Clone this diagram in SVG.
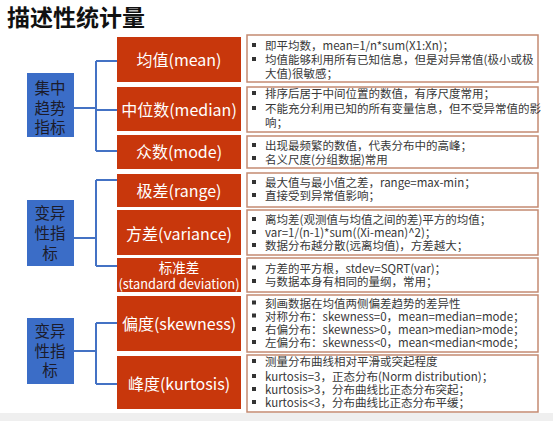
<svg xmlns="http://www.w3.org/2000/svg" width="553" height="421" viewBox="0 0 553 421">
<style>
text{font-family:"Noto Sans CJK SC","Noto Sans",sans-serif}
.title{font-size:23px;font-weight:bold;fill:#111}
.cat rect{fill:#3b6dc7}
.cat text{font-size:15.5px;fill:#1b1b2a;text-anchor:middle}
.m rect{fill:#c8370c}
.m text{font-size:16px;fill:#fff;text-anchor:middle}
.m .s{font-size:13.5px}
.d rect{fill:#fff;stroke:#c48a72;stroke-width:1.5}
.d text{font-size:11.5px;fill:#383838}
.d .b{fill:#333;stroke:none}
.conn{fill:none;stroke:#4472c4;stroke-width:2}
</style>
<rect width="553" height="421" fill="#fff"/>
<rect x="0" y="413" width="553" height="8" fill="#efefef"/>
<text class="title" x="7" y="26">描述性统计量</text>

<g class="conn" id="connectors">
<path d="M74 108H96M96 61V151M96 61H118M96 110H118M96 151H118"/>
<path d="M74 238H96M96 180V266M96 180H118M96 266H118"/>
<path d="M74 351H96M96 323V384M96 323H118M96 384H118"/>
</g>

<g class="cat" id="cat1"><rect x="27" y="73" width="47" height="64"/><text x="50" y="94">集中</text><text x="50" y="114">趋势</text><text x="50" y="133">指标</text></g>
<g class="cat" id="cat2"><rect x="27" y="200" width="47" height="66"/><text x="50" y="219">变异</text><text x="50" y="239">性指</text><text x="50" y="259">标</text></g>
<g class="cat" id="cat3"><rect x="27" y="318" width="47" height="66"/><text x="50" y="337">变异</text><text x="50" y="357">性指</text><text x="50" y="376">标</text></g>

<g class="m" id="mean"><rect x="117" y="37" width="124" height="45"/><text x="179" y="66">均值(mean)</text></g>
<g class="m" id="median"><rect x="117" y="87" width="124" height="44"/><text x="179" y="116">中位数(median)</text></g>
<g class="m" id="mode"><rect x="117" y="135" width="124" height="34"/><text x="179" y="158">众数(mode)</text></g>
<g class="m" id="range"><rect x="117" y="174" width="124" height="33"/><text x="179" y="197">极差(range)</text></g>
<g class="m" id="variance"><rect x="117" y="210" width="124" height="45"/><text x="179" y="240">方差(variance)</text></g>
<g class="m" id="std"><rect x="117" y="258" width="124" height="34"/><text class="s" x="179" y="273">标准差</text><text class="s" x="179" y="288.5" textLength="121" lengthAdjust="spacingAndGlyphs">(standard deviation)</text></g>
<g class="m" id="skewness"><rect x="117" y="296" width="124" height="55"/><text x="179" y="330">偏度(skewness)</text></g>
<g class="m" id="kurtosis"><rect x="117" y="356" width="124" height="53"/><text x="179" y="390">峰度(kurtosis)</text></g>

<g class="d" id="d-mean"><rect x="247" y="35" width="291" height="47"/>
<rect class="b" x="252" y="43" width="4" height="4"/><text x="265" y="50">即平均数，mean=1/n*sum(X1:Xn)；</text>
<rect class="b" x="252" y="57" width="4" height="4"/><text x="265" y="64">均值能够利用所有已知信息，但是对异常值(极小或极</text>
<text x="265" y="77.5">大值)很敏感；</text></g>

<g class="d" id="d-median"><rect x="247" y="87" width="291" height="45"/>
<rect class="b" x="252" y="91" width="4" height="4"/><text x="265" y="98">排序后居于中间位置的数值，有序尺度常用；</text>
<rect class="b" x="252" y="106" width="4" height="4"/><text x="265" y="113">不能充分利用已知的所有变量信息，但不受异常值的影</text>
<text x="265" y="127">响；</text></g>

<g class="d" id="d-mode"><rect x="247" y="136" width="291" height="32"/>
<rect class="b" x="252" y="143" width="4" height="4"/><text x="265" y="150">出现最频繁的数值，代表分布中的高峰；</text>
<rect class="b" x="252" y="156" width="4" height="4"/><text x="265" y="163.5">名义尺度(分组数据)常用</text></g>

<g class="d" id="d-range"><rect x="247" y="173" width="291" height="34"/>
<rect class="b" x="252" y="180" width="4" height="4"/><text x="265" y="187">最大值与最小值之差，range=max-min；</text>
<rect class="b" x="252" y="193" width="4" height="4"/><text x="265" y="200">直接受到异常值影响；</text></g>

<g class="d" id="d-variance"><rect x="247" y="210" width="291" height="45"/>
<rect class="b" x="252" y="217" width="4" height="4"/><text x="265" y="224">离均差(观测值与均值之间的差)平方的均值；</text>
<rect class="b" x="252" y="230" width="4" height="4"/><text x="265" y="237">var=1/(n-1)*sum((Xi-mean)^2)；</text>
<rect class="b" x="252" y="243" width="4" height="4"/><text x="265" y="250">数据分布越分散(远离均值)，方差越大；</text></g>

<g class="d" id="d-std"><rect x="247" y="258" width="291" height="34"/>
<rect class="b" x="252" y="265.5" width="4" height="4"/><text x="265" y="272.5">方差的平方根，stdev=SQRT(var)；</text>
<rect class="b" x="252" y="279" width="4" height="4"/><text x="265" y="286">与数据本身有相同的量纲，常用；</text></g>

<g class="d" id="d-skewness"><rect x="247" y="295" width="291" height="57"/>
<rect class="b" x="252" y="300.5" width="4" height="4"/><text x="265" y="307.5">刻画数据在均值两侧偏差趋势的差异性</text>
<rect class="b" x="252" y="313.5" width="4" height="4"/><text x="265" y="320.5">对称分布：skewness=0，mean=median=mode；</text>
<rect class="b" x="252" y="327" width="4" height="4"/><text x="265" y="334">右偏分布：skewness&gt;0，mean&gt;median&gt;mode；</text>
<rect class="b" x="252" y="340" width="4" height="4"/><text x="265" y="347">左偏分布：skewness&lt;0，mean&lt;median&lt;mode；</text></g>

<g class="d" id="d-kurtosis"><rect x="247" y="355" width="291" height="57"/>
<rect class="b" x="252" y="359" width="4" height="4"/><text x="265" y="366">测量分布曲线相对平滑或突起程度</text>
<rect class="b" x="252" y="374" width="4" height="4"/><text x="265" y="381">kurtosis=3，正态分布(Norm distribution)；</text>
<rect class="b" x="252" y="387" width="4" height="4"/><text x="265" y="394">kurtosis&gt;3，分布曲线比正态分布突起；</text>
<rect class="b" x="252" y="400" width="4" height="4"/><text x="265" y="407">kurtosis&lt;3，分布曲线比正态分布平缓；</text></g>
</svg>
